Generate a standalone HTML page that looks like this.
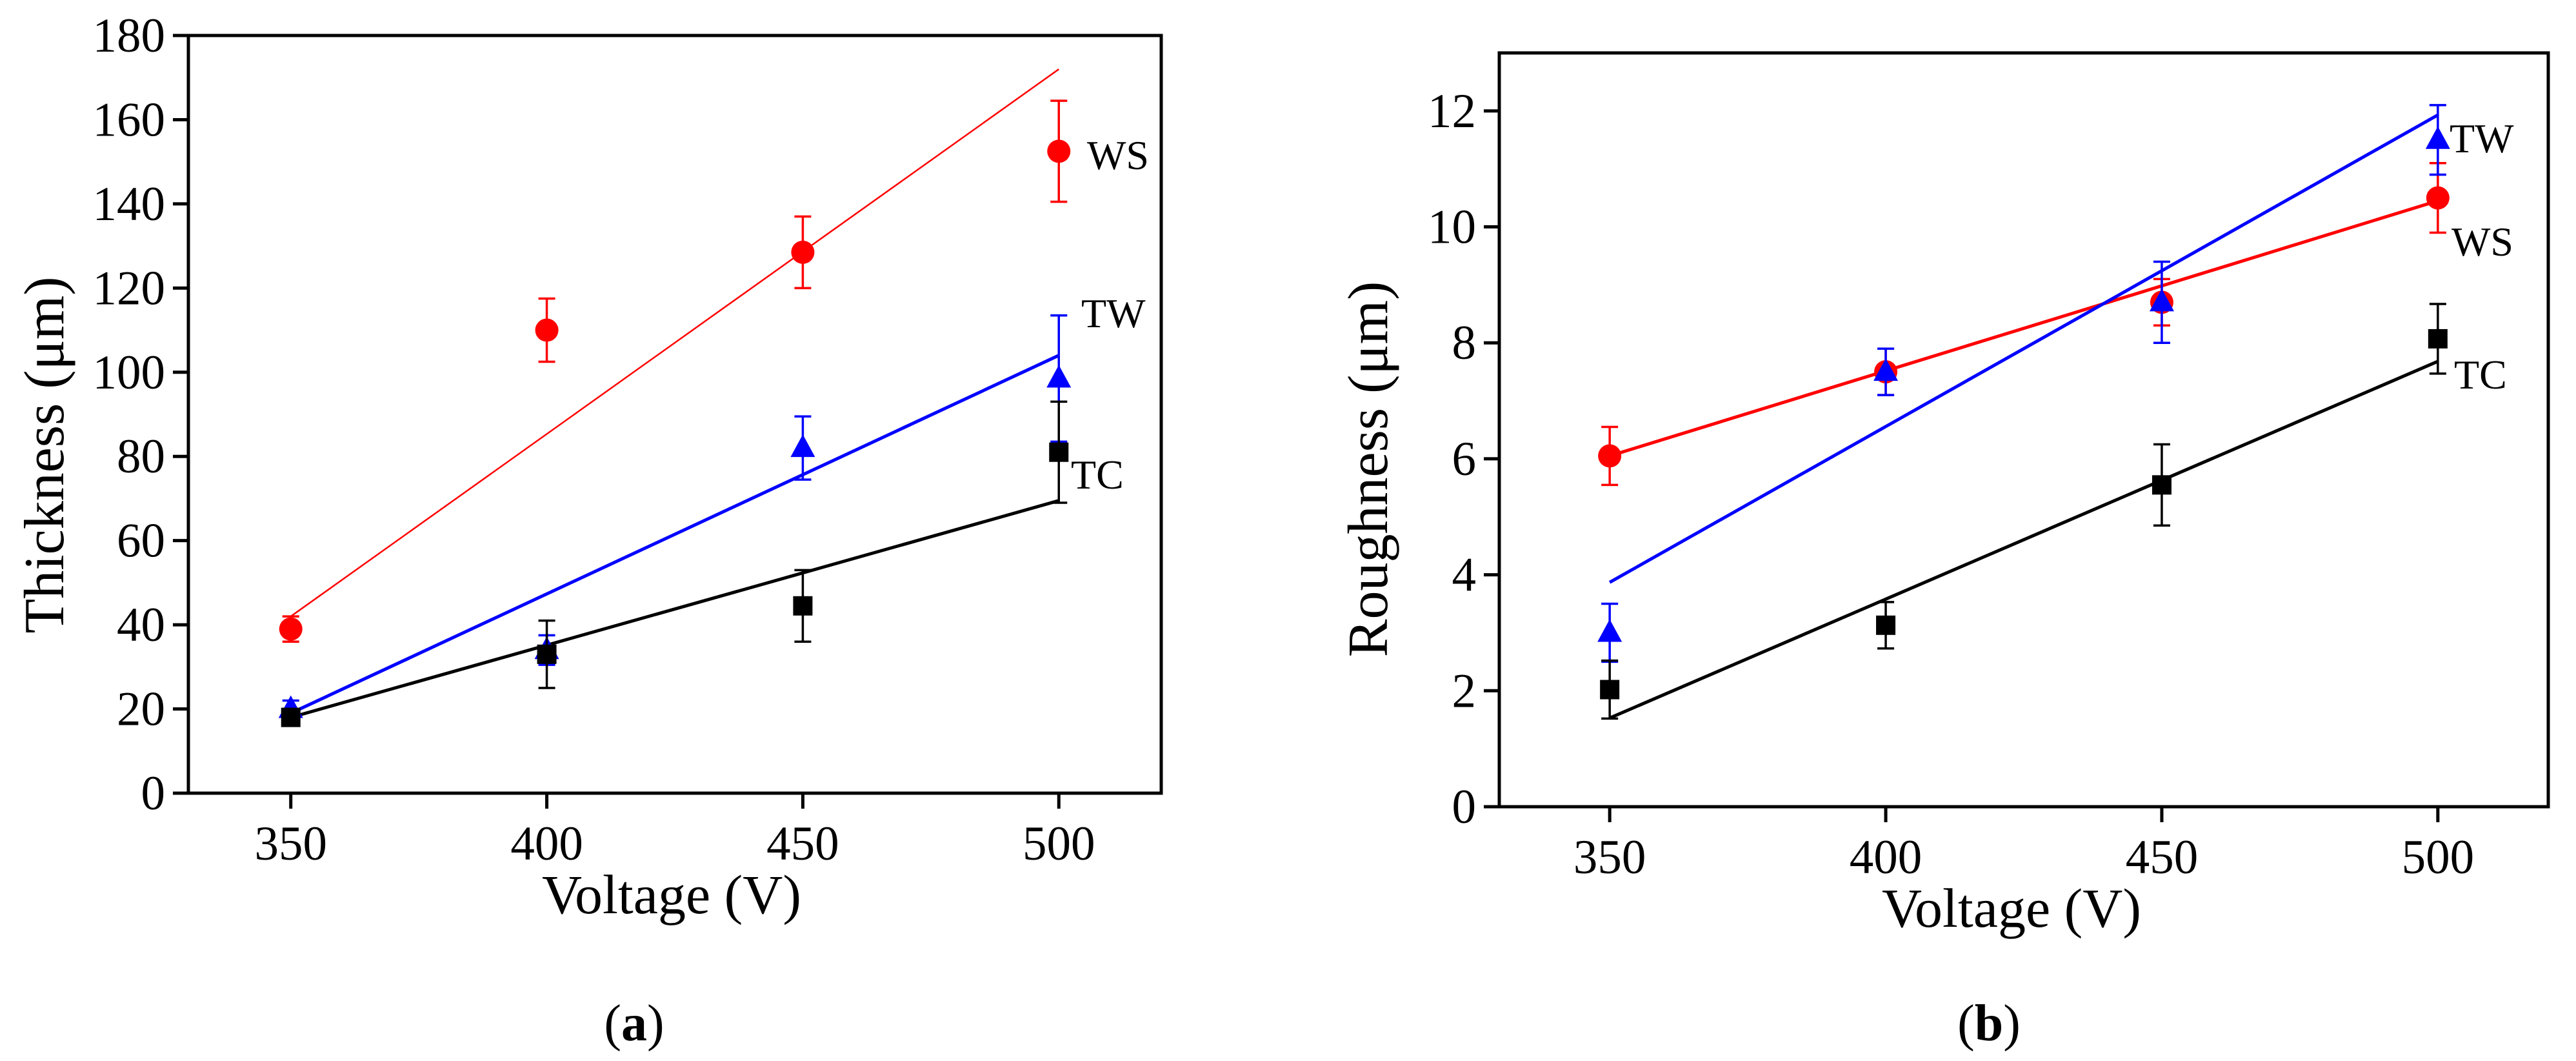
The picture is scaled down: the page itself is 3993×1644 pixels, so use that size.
<!DOCTYPE html>
<html><head><meta charset="utf-8"><style>
html,body{margin:0;padding:0;background:#fff;}
svg{display:block;font-family:"Liberation Serif",serif;}
</style></head><body>
<svg id="fig" width="3993" height="1644" viewBox="0 0 3993 1644"></svg>
<script>
// ---- data: Thickness (a) ----
const voltages = [350, 400, 450, 500];
const thickWS = [39, 110, 128.5, 152.5];
const thickWSerr = [3, 7.5, 8.5, 12];
const thickTW = [20, 34, 82, 98.5];
const thickTWerr = [2, 3.5, 7.5, 15];
const thickTC = [18, 33, 44.5, 81];
const thickTCerr = [2, 8, 8.5, 12];
const thickFitWS = [42, 172];
const thickFitTW = [19, 104];
const thickFitTC = [18, 69.5];
const thickTicks = [0, 20, 40, 60, 80, 100, 120, 140, 160, 180];
// ---- data: Roughness (b) ----
const roughWS = [6.05, 7.5, 8.7, 10.5];
const roughWSerr = [0.5, 0.4, 0.4, 0.6];
const roughTW = [3.0, 7.5, 8.7, 11.5];
const roughTWerr = [0.5, 0.4, 0.7, 0.6];
const roughTC = [2.02, 3.13, 5.55, 8.07];
const roughTCerr = [0.5, 0.4, 0.7, 0.6];
const roughFitWS = [6.05, 10.45];
const roughFitTW = [3.87, 11.93];
const roughFitTC = [1.53, 7.68];
const roughTicks = [0, 2, 4, 6, 8, 10, 12];
const xTicks = [350, 400, 450, 500];

const NS = "http://www.w3.org/2000/svg";
const svg = document.getElementById('fig');
function mk(tag, attrs, parent, text){
  const e = document.createElementNS(NS, tag);
  for (const k in attrs) e.setAttribute(k, attrs[k]);
  if (text !== undefined) e.textContent = text;
  (parent || svg).appendChild(e);
  return e;
}

function panel(cfg){
  const g = mk('g', {});
  
  
  const X = v => cfg.L + (v - 330) / 190 * (cfg.R - cfg.L);
  const Y = v => cfg.B - (v - cfg.ymin) / (cfg.ymax - cfg.ymin) * (cfg.B - cfg.T);
  const fr = mk('rect', {x: cfg.L, y: cfg.T, width: cfg.R - cfg.L, height: cfg.B - cfg.T, fill: 'none', stroke: '#000', 'stroke-width': 5}, g);
  
  
  cfg.yt.forEach(t => {
    const y = Y(t);
    mk('line', {x1: cfg.L - 24, x2: cfg.L, y1: y, y2: y, stroke: '#000', 'stroke-width': 5}, g);
    const tx = mk('text', {x: cfg.L - 36, y: y + 25, 'font-size': 75, 'text-anchor': 'end'}, g, String(t));
    
    
  });
  xTicks.forEach(t => {
    const x = X(t);
    mk('line', {x1: x, x2: x, y1: cfg.B, y2: cfg.B + 24, stroke: '#000', 'stroke-width': 5}, g);
    const tx = mk('text', {x: x, y: cfg.B + 103, 'font-size': 75, 'text-anchor': 'middle'}, g, String(t));
    
    
  });
  const xt = mk('text', {x: (cfg.L + cfg.R) / 2 + cfg.xtOff, y: cfg.B + 186, 'font-size': 86, 'text-anchor': 'middle'}, g, 'Voltage (V)');
  
  
  const yt = mk('text', {x: 0, y: 0, 'font-size': 88, 'text-anchor': 'middle', transform: `translate(${cfg.ytx},${cfg.yty}) rotate(-90)`}, g, cfg.ytitle);
  
  
  const cap = mk('text', {x: cfg.capx, y: cfg.capy, 'font-size': 80, 'text-anchor': 'middle'}, g);
  mk('tspan', {}, cap, '(');
  mk('tspan', {'font-weight': 'bold'}, cap, cfg.cap);
  mk('tspan', {}, cap, ')');
  
  

  cfg.series.forEach(s => {
    const ln = mk('line', {x1: X(350), y1: Y(s.fit[0]), x2: X(500), y2: Y(s.fit[1]), stroke: s.color, 'stroke-width': s.lw}, g);
    
    
  });
  cfg.series.forEach(s => {
    voltages.forEach((v, i) => {
      const x = X(v), y = Y(s.vals[i]);
      const yh = Y(s.vals[i] + s.err[i]), yl = Y(s.vals[i] - s.err[i]);
      const eb = mk('path', {d: `M${x},${yh}V${yl}M${x-13},${yh}H${x+13}M${x-13},${yl}H${x+13}`, stroke: s.color, 'stroke-width': 3.5, fill: 'none'}, g);
      
      
      let m;
      if (s.shape === 'circle') m = mk('circle', {cx: x, cy: y, r: 18, fill: s.color}, g);
      else if (s.shape === 'square') m = mk('rect', {x: x - 15, y: y - 15, width: 30, height: 30, fill: s.color}, g);
      else m = mk('polygon', {points: `${x},${y-21} ${x+19},${y+14} ${x-19},${y+14}`, fill: s.color}, g);
      
      
    });
    const lb = mk('text', {x: s.lx, y: s.ly, 'font-size': 64}, g, s.key);
    
    
  });
}

panel({name: 'thickness-chart', L: 292, R: 1800, T: 55, B: 1229, ymin: 0, ymax: 180, yt: thickTicks,
  ytitle: 'Thickness (μm)', ytx: 98, yty: 705, xtOff: -5, cap: 'a', capx: 983, capy: 1612,
  series: [
    {key: 'WS', vals: thickWS, err: thickWSerr, fit: thickFitWS, color: '#ff0000', lw: 2.5, shape: 'circle', lx: 1685, ly: 262},
    {key: 'TW', vals: thickTW, err: thickTWerr, fit: thickFitTW, color: '#0000ff', lw: 5, shape: 'tri', lx: 1676, ly: 507},
    {key: 'TC', vals: thickTC, err: thickTCerr, fit: thickFitTC, color: '#000000', lw: 5, shape: 'square', lx: 1660, ly: 757}
  ]});
panel({name: 'roughness-chart', L: 2324, R: 3950, T: 82, B: 1250, ymin: 0, ymax: 13, yt: roughTicks,
  ytitle: 'Roughness (μm)', ytx: 2150, yty: 727, xtOff: -19, cap: 'b', capx: 3083, capy: 1612,
  series: [
    {key: 'WS', vals: roughWS, err: roughWSerr, fit: roughFitWS, color: '#ff0000', lw: 5, shape: 'circle', lx: 3800, ly: 396},
    {key: 'TW', vals: roughTW, err: roughTWerr, fit: roughFitTW, color: '#0000ff', lw: 5, shape: 'tri', lx: 3797, ly: 236},
    {key: 'TC', vals: roughTC, err: roughTCerr, fit: roughFitTC, color: '#000000', lw: 5, shape: 'square', lx: 3804, ly: 602}
  ]});
</script>
</body></html>
